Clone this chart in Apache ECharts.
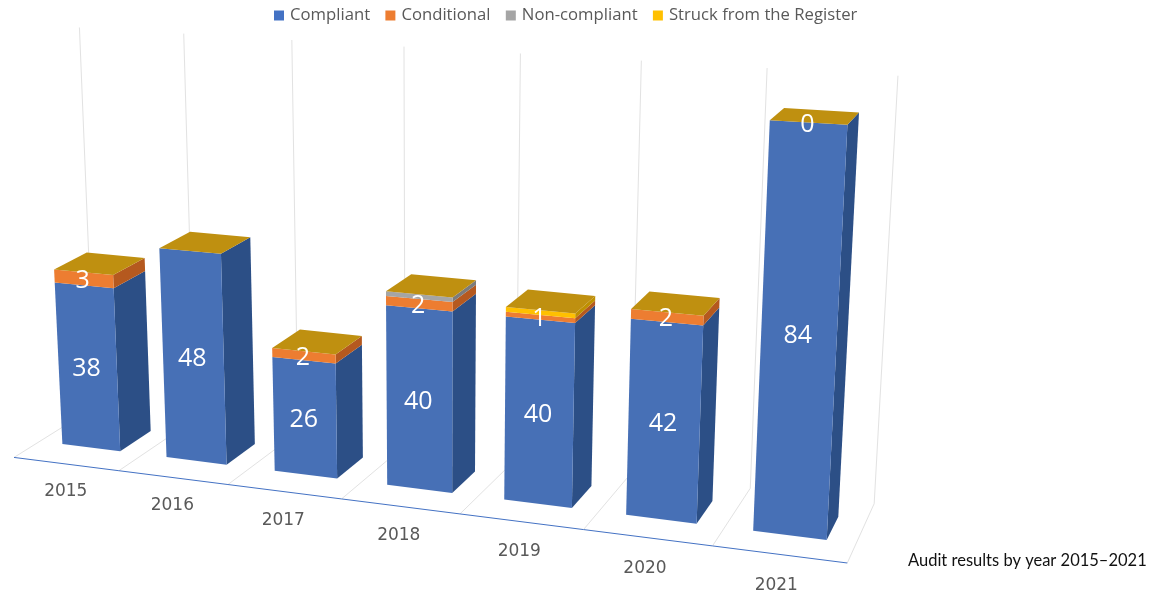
<!DOCTYPE html>
<html>
<head>
<meta charset="utf-8">
<title>Audit results by year</title>
<style>
  html, body { margin: 0; padding: 0; background: #fff; }
  #chart { width: 1152px; height: 593px; }
</style>
</head>
<body>
<div id="chart"></div>
<script src="https://cdn.jsdelivr.net/npm/echarts@6/dist/echarts.min.js"></script>
<script>
const years = ['2015', '2016', '2017', '2018', '2019', '2020', '2021'];
const compliant = [38, 48, 26, 40, 40, 42, 84];
const conditional = [3, null, 2, 2, 1, 2, 0];
const nonCompliant = [0, 0, 0, 1, 0, 0, 0];
const struck = [0, 0, 0, 0, 1, 0, 0];
const yMax = 90;

// hidden grid: the axes give grid pixels, the camera below turns them into the 3d view
const gridBox = { left: 0, top: 0, width: 700, height: 450 };
const gapShare = 0.22;
const floorFront = -0.735;
const wallDepth = 1.79;

// projective camera, u = category position, v = value, w = depth (bar front 0, bar back 1)
function camera(u, v, w) {
  const x = 100.6 * u - 0.23 * v + 40 + w * (3.31 * u - 0.0017 * v + 36.16);
  const y = 4.49 * u - 4.382 * v + 441.2 + w * (0.761 * u - 0.159 * v + 4.35);
  const d = 1 - 0.018665 * u - 0.000526 * v + w * (0.0578 - 0.000011 * v);
  return [x / d, y / d];
}

function scene(gx, gy, w) {
  const u = (gx - gridBox.left) / (gridBox.width / years.length);
  const v = (gridBox.top + gridBox.height - gy) / (gridBox.height / yMax);
  return camera(u, v, w);
}

function face(points, color) {
  return { type: 'polygon', shape: { points: points }, style: { fill: color } };
}

function renderSegment(colors, withCap) {
  return function (params, api) {
    const i = api.value(0);
    const low = api.coord([i, api.value(1)]);
    const high = api.coord([i, api.value(2)]);
    const half = api.size([1, 0])[0] * (0.5 - gapShare);
    const x0 = low[0] - half;
    const x1 = low[0] + half;
    const children = [];
    if (api.value(2) > api.value(1)) {
      children.push(face([scene(x1, low[1], 0), scene(x1, high[1], 0), scene(x1, high[1], 1), scene(x1, low[1], 1)], colors.side));
      children.push(face([scene(x0, low[1], 0), scene(x1, low[1], 0), scene(x1, high[1], 0), scene(x0, high[1], 0)], colors.front));
    }
    if (withCap) {
      children.push(face([scene(x0, high[1], 0), scene(x1, high[1], 0), scene(x1, high[1], 1), scene(x0, high[1], 1)], colors.cap));
    }
    const label = api.value(3);
    if (label !== '' && !isNaN(label)) {
      const p = scene(low[0], (low[1] + high[1]) / 2, 0);
      children.push({
        type: 'text', z2: 10,
        style: { x: p[0] - 1, y: p[1] + 2, text: String(label), fill: '#fff', font: '25px "Open Sans"', align: 'center', verticalAlign: 'middle' }
      });
    }
    return { type: 'group', children: children };
  };
}

function renderFrame(params, api) {
  const i = api.value(0);
  const band = api.size([1, 0])[0];
  const base = api.coord([i, 0]);
  const top = api.coord([i, yMax]);
  const under = api.coord([i, -6.6]);
  const x0 = base[0] - band / 2;
  const x1 = base[0] + band / 2;
  const wall = function (x) {
    return {
      type: 'polyline',
      shape: { points: [scene(x, top[1], wallDepth), scene(x, base[1], wallDepth), scene(x, base[1], floorFront)] },
      style: { fill: 'none', stroke: '#e2e2e2', lineWidth: 1 }
    };
  };
  const children = [wall(x0)];
  if (i === years.length - 1) children.push(wall(x1));
  const a = scene(x0, base[1], floorFront);
  const b = scene(x1, base[1], floorFront);
  children.push({
    type: 'line', z2: 2,
    shape: { x1: a[0], y1: a[1], x2: b[0], y2: b[1] },
    style: { stroke: '#4472c4', lineWidth: 1 }
  });
  const t = scene(base[0], under[1], floorFront);
  children.push({
    type: 'text',
    style: { x: t[0] - 1.5, y: t[1], text: years[i], fill: '#595959', font: '17px "DejaVu Sans"', align: 'center', verticalAlign: 'middle' }
  });
  return { type: 'group', children: children };
}

// stack the four lists into [index, from, to, label]
const running = years.map(function () { return 0; });
function stackRows(values, labelled) {
  return values.map(function (val, i) {
    const from = running[i];
    running[i] += val || 0;
    return [i, from, running[i], labelled && val !== null ? val : ''];
  });
}
const compliantRows = stackRows(compliant, true);
const conditionalRows = stackRows(conditional, true);
const nonCompliantRows = stackRows(nonCompliant, false);
const struckRows = stackRows(struck, false);

function segmentSeries(name, color, rows, colors, withCap) {
  return {
    name: name,
    type: 'custom',
    coordinateSystem: 'cartesian2d',
    itemStyle: { color: color },
    encode: { x: 0, y: [1, 2] },
    data: rows,
    z: 3,
    silent: true,
    animation: false,
    renderItem: renderSegment(colors, withCap)
  };
}

const chart = echarts.init(document.getElementById('chart'));
chart.setOption({
  backgroundColor: '#fff',
  animation: false,
  title: {
    text: 'Audit results by year 2015\u20132021',
    left: 908,
    top: 552,
    padding: 0,
    textStyle: { color: '#111', fontFamily: 'Lato', fontSize: 16.5, fontWeight: 'normal' }
  },
  legend: {
    left: 274,
    top: 7,
    padding: 0,
    icon: 'rect',
    itemWidth: 10,
    itemHeight: 10,
    itemGap: 15.3,
    textStyle: { color: '#595959', fontFamily: 'Open Sans', fontSize: 16.7, padding: [0, 0, 0, 1] },
    data: ['Compliant', 'Conditional', 'Non-compliant', 'Struck from the Register']
  },
  grid: gridBox,
  xAxis: { type: 'category', data: years, show: false },
  yAxis: { type: 'value', min: 0, max: yMax, show: false },
  series: [
    {
      type: 'custom',
      coordinateSystem: 'cartesian2d',
      data: years.map(function (y, i) { return [i, 0]; }),
      encode: { x: 0, y: 1 },
      z: 1,
      silent: true,
      animation: false,
      renderItem: renderFrame
    },
    segmentSeries('Compliant', '#4472c4', compliantRows, { front: '#4770b6', side: '#2c4f86' }, false),
    segmentSeries('Conditional', '#ed7d31', conditionalRows, { front: '#ed7d31', side: '#b5591f' }, false),
    segmentSeries('Non-compliant', '#a5a5a5', nonCompliantRows, { front: '#a5a5a5', side: '#7c7c7c' }, false),
    segmentSeries('Struck from the Register', '#ffc000', struckRows, { front: '#ffc000', side: '#bf9000', cap: '#bf9010' }, true)
  ]
});
</script>
</body>
</html>
